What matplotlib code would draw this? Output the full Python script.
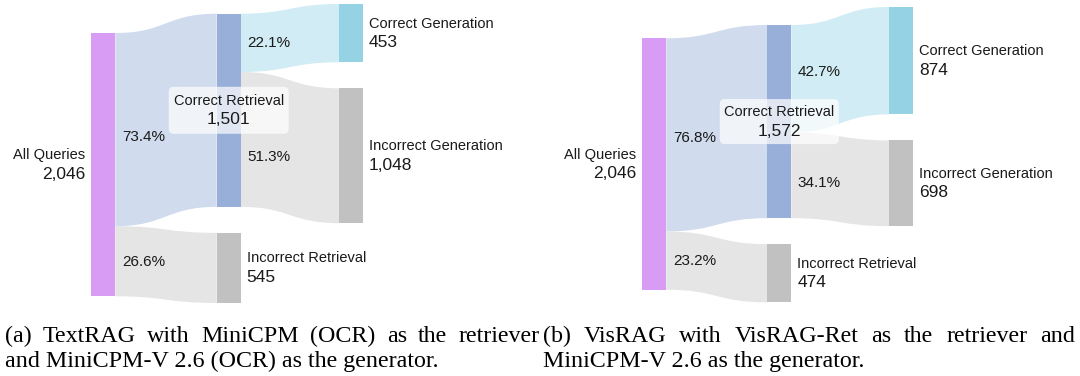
import matplotlib
matplotlib.use("Agg")
import matplotlib.pyplot as plt
from matplotlib.path import Path
from matplotlib.patches import PathPatch, Rectangle, FancyBboxPatch

# data
node_names = ["All Queries", "Correct Retrieval", "Incorrect Retrieval",
              "Correct Generation", "Incorrect Generation"]
node_column = [0, 1, 1, 2, 2]
link_pairs = [(0, 1), (0, 2), (1, 3), (1, 4)]

textrag_nodes = [2046, 1501, 545, 453, 1048]
textrag_links = [1501, 545, 453, 1048]
textrag_pct = ["73.4%", "26.6%", "22.1%", "51.3%"]

visrag_nodes = [2046, 1572, 474, 874, 698]
visrag_links = [1572, 474, 874, 698]
visrag_pct = ["76.8%", "23.2%", "42.7%", "34.1%"]

caption_a = ["(a) TextRAG with MiniCPM (OCR) as the retriever",
             "and MiniCPM-V 2.6 (OCR) as the generator."]
caption_b = ["(b) VisRAG with VisRAG-Ret as the retriever and",
             "MiniCPM-V 2.6 as the generator."]

# styles
node_colors = ["#D99CF5", "#98AFDA", "#C1C1C1", "#95D3E4", "#C1C1C1"]
link_colors = ["#D0DBEE", "#E5E5E5", "#D1ECF4", "#E5E5E5"]
SANS = "Liberation Sans"
SERIF = "Liberation Serif"
TXT = "#1a1a1a"
NODE_W = 24
GAP = 26

fig = plt.figure(figsize=(10.8, 3.76), dpi=100)
ax = fig.add_axes([0, 0, 1, 1])
ax.set_xlim(0, 1080)
ax.set_ylim(376, 0)
ax.axis("off")


def sankey(ax, values, lvals, pcts, col_x, col_top, total_h, pct_dy, box_size):
    scale = total_h / values[0]
    # node positions
    pos = {}
    next_top = dict(enumerate(col_top))
    for i, v in enumerate(values):
        c = node_column[i]
        top = next_top[c]
        h = v * scale
        pos[i] = (col_x[c], top, h)
        next_top[c] = top + h + GAP
    # links
    out_off = {i: pos[i][1] for i in pos}
    in_off = {i: pos[i][1] for i in pos}
    for k, ((s, t), v) in enumerate(zip(link_pairs, lvals)):
        h = v * scale
        x0 = pos[s][0] + NODE_W
        x1 = pos[t][0]
        y0 = out_off[s]
        y1 = in_off[t]
        out_off[s] += h
        in_off[t] += h
        xm = (x0 + x1) / 2
        verts = [(x0, y0), (xm, y0), (xm, y1), (x1, y1),
                 (x1, y1 + h),
                 (xm, y1 + h), (xm, y0 + h), (x0, y0 + h),
                 (x0, y0)]
        codes = [Path.MOVETO, Path.CURVE4, Path.CURVE4, Path.CURVE4,
                 Path.LINETO,
                 Path.CURVE4, Path.CURVE4, Path.CURVE4,
                 Path.CLOSEPOLY]
        ax.add_patch(PathPatch(Path(verts, codes), fc=link_colors[k], ec="none", lw=0))
        ax.text(x0 + 6.5, y0 + h / 2 + pct_dy[k], pcts[k], fontsize=11,
                family=SANS, color=TXT, ha="left", va="center")
    # nodes
    for i in pos:
        x, top, h = pos[i]
        ax.add_patch(Rectangle((x, top), NODE_W, h, fc=node_colors[i], ec="none"))
    # labels
    for i in pos:
        x, top, h = pos[i]
        cy = top + h / 2
        num = f"{values[i]:,}"
        if node_column[i] == 0:
            ha, tx = "right", x - 6
        elif i == 1:
            ha, tx = "center", x + NODE_W / 2
            bw, bh = box_size
            ax.add_patch(FancyBboxPatch((tx - bw / 2 + 4, cy - bh / 2 + 4), bw - 8, bh - 8,
                                        boxstyle="round,pad=4,rounding_size=5",
                                        fc="white", ec="none", alpha=0.7))
        else:
            ha, tx = "left", x + NODE_W + 6
        ax.text(tx, cy - 9.5, node_names[i], fontsize=10.5, family=SANS,
                color=TXT, ha=ha, va="center")
        ax.text(tx, cy + 9.5, num, fontsize=12.5, family=SANS,
                color=TXT, ha=ha, va="center")


sankey(ax, textrag_nodes, textrag_links, textrag_pct,
       col_x=[91.3, 216.7, 339], col_top=[33, 13.7, 4], total_h=263.3,
       pct_dy=[7, 1, 0, 18], box_size=(120, 47))
sankey(ax, visrag_nodes, visrag_links, visrag_pct,
       col_x=[642.3, 767.3, 889], col_top=[38.3, 25, 7], total_h=251.4,
       pct_dy=[3, 0.5, -7, 8], box_size=(119, 45))

renderer = fig.canvas.get_renderer()


def caption(ax, lines, x0, x1, y0, dy, size=17.3):
    for n, line in enumerate(lines):
        y = y0 + n * dy
        if n < len(lines) - 1:
            words = line.split()
            texts = [ax.text(0, y, w, fontsize=size, family=SERIF, color="black",
                             ha="left", va="baseline") for w in words]
            widths = [t.get_window_extent(renderer).width for t in texts]
            gap = (x1 - x0 - sum(widths)) / (len(words) - 1)
            x = x0
            for t, w in zip(texts, widths):
                t.set_x(x)
                x += w + gap
        else:
            ax.text(x0, y, line, fontsize=size, family=SERIF, color="black",
                    ha="left", va="baseline")


caption(ax, caption_a, 5, 540, 342, 25.5)
caption(ax, caption_b, 543, 1075, 342, 25.5)

fig.savefig("out.png", dpi=100)
